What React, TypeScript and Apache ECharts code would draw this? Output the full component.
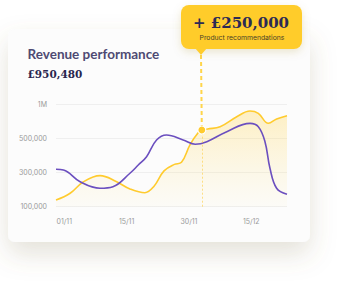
import React, { useEffect, useRef } from "react";
import * as echarts from "echarts";

// X positions: days counted from 01/11 (01/11 = 0, 15/11 = 15, 30/11 = 30, 15/12 = 45)
const xTickValues = [0, 15, 30, 45];
const xTickLabels = ["01/11", "15/11", "30/11", "15/12"];
// Y tick labels (evenly spaced in the picture)
const yTickRevenue = [100000, 300000, 500000, 1000000];
const yTickLabels = ["100,000", "300,000", "500,000", "1M"];

// Series with product recommendations (yellow)
const recoDays = [-2, 1.4, 4.6, 8.6, 12.6, 15.8, 19.4, 21.6, 24.0, 26.5, 28.2, 30.3, 32.3, 33.1, 34.5, 37.5, 41.5, 44.7, 46.7, 49.1, 51.1, 53.6];
const recoRevenue = [139000, 179000, 246000, 282000, 246000, 204000, 182000, 220000, 310000, 348000, 360000, 465000, 590000, 623000, 638000, 672000, 818000, 902000, 868000, 722000, 785000, 833000];

// Series without (purple)
const baseDays = [-2, -0.2, 3.8, 8.6, 11.7, 15.8, 17.8, 19.8, 22.2, 24.6, 28.6, 31.5, 34.3, 39.1, 44.7, 46.7, 48.3, 49.5, 51.1, 53.6];
const baseRevenue = [319000, 315000, 246000, 208000, 217000, 296000, 344000, 393000, 491000, 550000, 491000, 466000, 481000, 599000, 720000, 672000, 481000, 325000, 208000, 173000];

// Highlighted point
const markerDay = 33.1;
const markerRevenue = 623000;

const titleText = "Revenue performance";
const totalText = "£950,480";
const calloutValue = "+ £250,000";
const calloutLabel = "Product recommendations";

// Map revenue to evenly spaced tick positions (0..3)
function toAxis(v: number): number {
  for (let i = 0; i < yTickRevenue.length - 1; i++) {
    const a = yTickRevenue[i];
    const b = yTickRevenue[i + 1];
    if (v <= b || i === yTickRevenue.length - 2) {
      return i + (v - a) / (b - a);
    }
  }
  return 0;
}

export default function App() {
  const ref = useRef<HTMLDivElement>(null);
  useEffect(() => {
    if (!ref.current) return;
    const chart = echarts.init(ref.current, undefined, { renderer: "svg" });
    const yellow = "#FFCB2E";
    const purple = "#6B4FBF";
    const option: any = {
      animation: false,
      backgroundColor: "#ffffff",
      grid: { left: 56, right: 58, top: 104.3, bottom: 302 - 206.7 },
      xAxis: {
        type: "value",
        min: -2,
        max: 53.6,
        axisLine: { show: false },
        axisTick: { show: false },
        splitLine: { show: false },
        axisLabel: {
          customValues: xTickValues,
          formatter: (v: number) => xTickLabels[xTickValues.indexOf(v)] ?? "",
          color: "#9a9a9a",
          fontSize: 7,
          fontFamily: "Inter",
          margin: 11,
        },
      },
      yAxis: {
        type: "value",
        min: 0,
        max: 3,
        interval: 1,
        axisLine: { show: false },
        axisTick: { show: false },
        splitLine: { lineStyle: { color: "#efefef", width: 1 } },
        axisLabel: {
          formatter: (v: number) => yTickLabels[Math.round(v)] ?? "",
          color: "#9a9a9a",
          fontSize: 7,
          fontFamily: "Inter",
          margin: 9,
        },
      },
      graphic: [
        {
          type: "rect",
          z: -10,
          shape: { x: 8, y: 29, width: 302, height: 213, r: 7 },
          style: {
            fill: "#fcfcfc",
            shadowBlur: 26,
            shadowOffsetY: 12,
            shadowColor: "rgba(120,110,70,0.2)",
          },
          silent: true,
        },
        {
          type: "text",
          x: 27.5,
          y: 54,
          style: {
            text: titleText,
            fill: "#4e4a73",
            font: "bold 13.5px Lato",
            verticalAlign: "middle",
          },
        },
        {
          type: "text",
          x: 27.5,
          y: 73.5,
          style: {
            text: totalText,
            fill: "#29264f",
            font: "bold 10.5px 'DejaVu Serif'",
            verticalAlign: "middle",
          },
        },
        {
          type: "rect",
          shape: { x: 181, y: 5, width: 121, height: 44, r: 8 },
          style: {
            fill: "#FFCC2C",
            shadowBlur: 8,
            shadowOffsetY: 3,
            shadowColor: "rgba(150,120,20,0.18)",
          },
          z: 20,
        },
        {
          type: "polygon",
          shape: { points: [[195, 48], [207, 48], [201, 55]] },
          style: { fill: "#FFCC2C" },
          z: 20,
        },
        {
          type: "text",
          x: 241,
          y: 22.5,
          style: {
            text: calloutValue,
            fill: "#2c2a55",
            font: "bold 15px 'DejaVu Serif'",
            align: "center",
            verticalAlign: "middle",
          },
          z: 21,
        },
        {
          type: "text",
          x: 242,
          y: 37.5,
          style: {
            text: calloutLabel,
            fill: "#4a4228",
            font: "6.8px 'Inter'",
            align: "center",
            verticalAlign: "middle",
          },
          z: 21,
        },
      ],
      series: [
        {
          type: "line",
          smooth: 0.4,
          showSymbol: false,
          data: recoDays.map((d, i) => [d, toAxis(recoRevenue[i])]),
          lineStyle: { color: yellow, width: 1.6 },
          itemStyle: { color: yellow },
          areaStyle: {
            origin: "start",
            color: new echarts.graphic.LinearGradient(0, 0, 0, 1, [
              { offset: 0, color: "rgba(255,210,70,0.45)" },
              { offset: 1, color: "rgba(255,225,130,0.06)" },
            ]),
          },
          z: 2,
          markLine: {
            silent: true,
            symbol: "none",
            label: { show: false },
            lineStyle: { color: "rgba(255,205,60,0.6)", type: [2, 2], width: 1 },
            data: [
              [
                { coord: [markerDay, 0] },
                { coord: [markerDay, toAxis(markerRevenue)] },
              ],
            ],
          },
        },
        {
          type: "line",
          smooth: 0.4,
          showSymbol: false,
          data: baseDays.map((d, i) => [d, toAxis(baseRevenue[i])]),
          lineStyle: { color: purple, width: 1.6 },
          itemStyle: { color: purple },
          z: 3,
        },
        {
          type: "line",
          data: [[markerDay, toAxis(markerRevenue)]],
          showSymbol: true,
          symbol: "circle",
          symbolSize: 8,
          itemStyle: { color: yellow, borderColor: "#ffffff", borderWidth: 1.2 },
          lineStyle: { opacity: 0 },
          z: 5,
          markLine: {
            silent: true,
            symbol: "none",
            label: { show: false },
            lineStyle: { color: "#FFD54A", type: [4, 3], width: 2 },
            data: [
              [
                { x: 201, y: 55 },
                { coord: [markerDay, toAxis(markerRevenue)] },
              ],
            ],
          },
        },
      ],
    };
    chart.setOption(option);
    return () => chart.dispose();
  }, []);
  return (
    <div
      ref={ref}
      style={{ position: "absolute", left: 0, top: 0, width: 345, height: 302 }}
    />
  );
}
